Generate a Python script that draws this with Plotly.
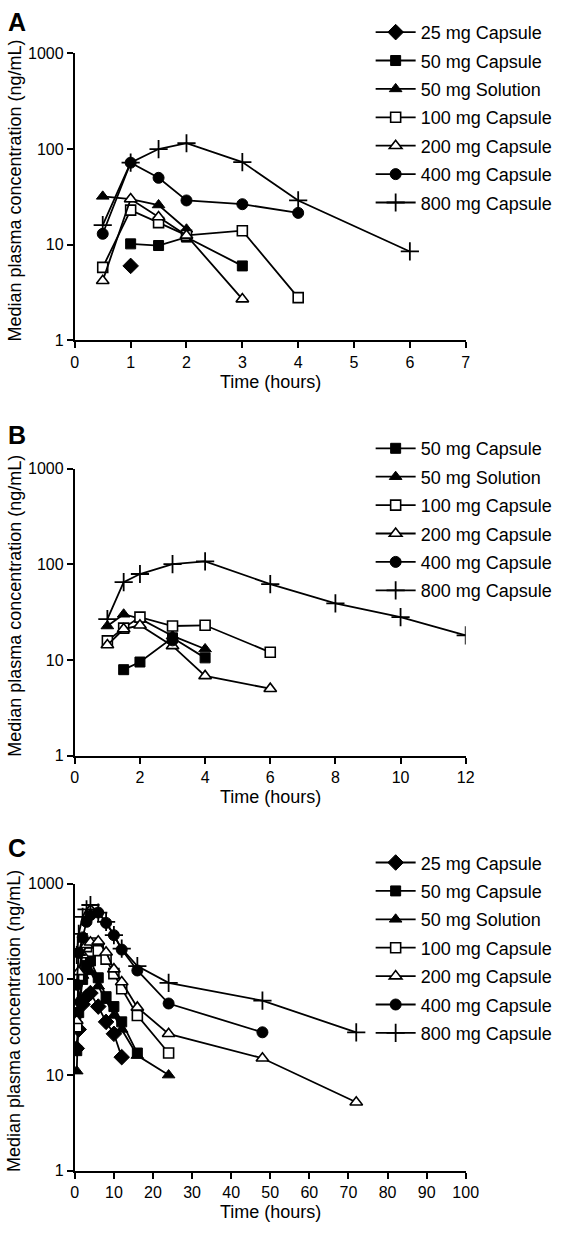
import plotly.graph_objects as go

FONT = "Liberation Sans, Arial, sans-serif"

series_names = ["25 mg Capsule", "50 mg Capsule", "50 mg Solution", "100 mg Capsule",
                "200 mg Capsule", "400 mg Capsule", "800 mg Capsule"]

# ---------------- Panel A (hours 0-7) ----------------
a_time = {
    "25 mg Capsule": [1],
    "50 mg Capsule": [1, 1.5, 2, 3],
    "50 mg Solution": [0.5, 1, 1.5, 2],
    "100 mg Capsule": [0.5, 1, 1.5, 2, 3, 4],
    "200 mg Capsule": [0.5, 1, 1.5, 2, 3],
    "400 mg Capsule": [0.5, 1, 1.5, 2, 3, 4],
    "800 mg Capsule": [0.5, 1, 1.5, 2, 3, 4, 6],
}
a_conc = {
    "25 mg Capsule": [6],
    "50 mg Capsule": [10.2, 9.8, 12, 6],
    "50 mg Solution": [32, 30, 26, 14.5],
    "100 mg Capsule": [5.8, 23, 17, 12.5, 14, 2.8],
    "200 mg Capsule": [4.2, 30, 19.5, 12.5, 2.7],
    "400 mg Capsule": [13, 72, 50, 29, 26.5, 21.5],
    "800 mg Capsule": [16, 72, 100, 115, 73, 29, 8.5],
}

# ---------------- Panel B (hours 0-12) ----------------
b_time = {
    "50 mg Capsule": [1.5, 2, 3, 4],
    "50 mg Solution": [1, 1.5, 2, 3, 4],
    "100 mg Capsule": [1, 1.5, 2, 3, 4, 6],
    "200 mg Capsule": [1, 1.5, 2, 3, 4, 6],
    "400 mg Capsule": [3],
    "800 mg Capsule": [1, 1.5, 2, 3, 4, 6, 8, 10, 12],
}
b_conc = {
    "50 mg Capsule": [7.9, 9.5, 17, 10.5],
    "50 mg Solution": [22.6, 30, 27, 17.8, 13],
    "100 mg Capsule": [15.8, 21.5, 28, 22.6, 23, 12],
    "200 mg Capsule": [14.3, 21, 23, 14, 6.8, 5],
    "400 mg Capsule": [16],
    "800 mg Capsule": [26.7, 65, 79, 100, 107, 62, 39, 28, 18],
}

# ---------------- Panel C (hours 0-100) ----------------
c_time = {
    "25 mg Capsule": [0.5, 1, 2, 3, 4, 6, 8, 10, 12],
    "50 mg Capsule": [0.5, 1, 2, 3, 4, 6, 8, 10, 12, 16],
    "50 mg Solution": [0.5, 1, 2, 3, 4, 6, 8, 10, 12, 16, 24],
    "100 mg Capsule": [0.5, 1, 2, 3, 4, 6, 8, 10, 12, 16, 24],
    "200 mg Capsule": [0.5, 1, 2, 3, 4, 6, 8, 10, 12, 16, 24, 48, 72],
    "400 mg Capsule": [0.5, 1, 2, 3, 4, 6, 8, 10, 12, 16, 24, 48],
    "800 mg Capsule": [0.5, 1, 2, 3, 4, 6, 8, 10, 12, 16, 24, 48, 72],
}
c_conc = {
    "25 mg Capsule": [19, 30, 55, 66, 72, 52, 36, 27, 15.4],
    "50 mg Capsule": [18, 45, 100, 140, 156, 104, 66, 52, 36, 17],
    "50 mg Solution": [11, 60, 110, 130, 120, 85, 60, 42, 30, 16, 10],
    "100 mg Capsule": [32, 110, 230, 220, 240, 200, 163, 115, 80, 42, 17],
    "200 mg Capsule": [37, 120, 180, 230, 245, 250, 192, 128, 94, 51, 27, 15, 5.2],
    "400 mg Capsule": [88, 190, 275, 400, 470, 500, 390, 290, 205, 124, 56, 28],
    "800 mg Capsule": [180, 300, 450, 540, 600, 500, 400, 290, 210, 138, 92, 60, 28],
}

x_ticks_a = [0, 1, 2, 3, 4, 5, 6, 7]
x_ticks_b = [0, 2, 4, 6, 8, 10, 12]
x_ticks_c = [0, 10, 20, 30, 40, 50, 60, 70, 80, 90, 100]
y_ticks = [1, 10, 100, 1000]

marker_style = {
    "25 mg Capsule": dict(symbol="diamond", size=12, color="black", line=dict(color="black", width=1)),
    "50 mg Capsule": dict(symbol="square", size=10, color="black", line=dict(color="black", width=1)),
    "50 mg Solution": dict(symbol="triangle-up", size=11, color="black", line=dict(color="black", width=1)),
    "100 mg Capsule": dict(symbol="square", size=10, color="white", line=dict(color="black", width=1.6)),
    "200 mg Capsule": dict(symbol="triangle-up", size=11, color="white", line=dict(color="black", width=1.6)),
    "400 mg Capsule": dict(symbol="circle", size=11, color="black", line=dict(color="black", width=1)),
    "800 mg Capsule": dict(symbol="cross-thin", size=13, color="black", line=dict(color="black", width=1.8)),
}

fig = go.Figure()

panels = [
    ("A", a_time, a_conc, "x", "y", "legend"),
    ("B", b_time, b_conc, "x2", "y2", "legend2"),
    ("C", c_time, c_conc, "x3", "y3", "legend3"),
]
for pname, tdict, cdict, xa, ya, lg in panels:
    for name in series_names:
        if name not in tdict:
            continue
        fig.add_trace(go.Scatter(
            x=tdict[name], y=cdict[name], name=name, mode="lines+markers",
            line=dict(color="black", width=1.8),
            marker=marker_style[name],
            xaxis=xa, yaxis=ya, legend=lg, legendgroup=pname + name,
        ))

W, H = 566, 1233
x0px, x1px = 73, 476
panel_px = [(46, 337), (467, 758), (888, 1179)]


def ydom(top, bot):
    return [1 - bot / H, 1 - top / H]


axis_common = dict(showline=True, linecolor="black", linewidth=2, ticks="outside",
                   ticklen=6, tickwidth=2, tickcolor="black", showgrid=False,
                   zeroline=False, tickfont=dict(family=FONT, size=16, color="black"),
                   mirror=False)

xd = [x0px / W, x1px / W]
layout = dict(
    width=W, height=H, margin=dict(l=0, r=0, t=0, b=0),
    paper_bgcolor="white", plot_bgcolor="white",
    font=dict(family=FONT, color="black"),
    xaxis=dict(domain=xd, range=[0, 7], tickvals=x_ticks_a, anchor="y", **axis_common),
    xaxis2=dict(domain=xd, range=[0, 12], tickvals=x_ticks_b, anchor="y2", **axis_common),
    xaxis3=dict(domain=xd, range=[0, 100], tickvals=x_ticks_c, anchor="y3", **axis_common),
    yaxis=dict(domain=ydom(*panel_px[0]), type="log", range=[0, 3], tickvals=y_ticks,
               ticktext=[str(v) for v in y_ticks], anchor="x", **axis_common),
    yaxis2=dict(domain=ydom(*panel_px[1]), type="log", range=[0, 3], tickvals=y_ticks,
                ticktext=[str(v) for v in y_ticks], anchor="x2", **axis_common),
    yaxis3=dict(domain=ydom(*panel_px[2]), type="log", range=[0, 3], tickvals=y_ticks,
                ticktext=[str(v) for v in y_ticks], anchor="x3", **axis_common),
)
leg_common = dict(font=dict(family=FONT, size=18, color="black"), bgcolor="rgba(0,0,0,0)",
                  xanchor="left", yanchor="top", tracegroupgap=2, itemwidth=40,
                  traceorder="grouped")
legend_tops = [6, 428, 848]
layout["legend"] = dict(x=378 / W, y=1 - legend_tops[0] / H, **leg_common)
layout["legend2"] = dict(x=378 / W, y=1 - legend_tops[1] / H, **leg_common)
layout["legend3"] = dict(x=378 / W, y=1 - legend_tops[2] / H, **leg_common)
fig.update_layout(**layout)

annotations = []
label_y = [14, 433, 852]
for (top, bot), lab, ly in zip(panel_px, ["A", "B", "C"], label_y):
    annotations.append(dict(text="<b>%s</b>" % lab, x=2 / W, y=1 - ly / H, xref="paper", yref="paper",
                            xanchor="left", yanchor="middle", showarrow=False,
                            font=dict(family=FONT, size=25, color="black")))
    annotations.append(dict(text="Median plasma concentration (ng/mL)", x=11 / W, y=1 - ((top + bot) / 2 - 6) / H,
                            xref="paper", yref="paper", xanchor="center", yanchor="middle",
                            textangle=-90, showarrow=False,
                            font=dict(family=FONT, size=18, color="black")))
    annotations.append(dict(text="Time (hours)", x=((x0px + x1px) / 2) / W, y=1 - (bot + 42) / H,
                            xref="paper", yref="paper", xanchor="center", yanchor="middle",
                            showarrow=False, font=dict(family=FONT, size=18, color="black")))
fig.update_layout(annotations=annotations)

fig.write_html("out.html", config={"displayModeBar": False},
               post_script="document.body.style.margin='0px';")
